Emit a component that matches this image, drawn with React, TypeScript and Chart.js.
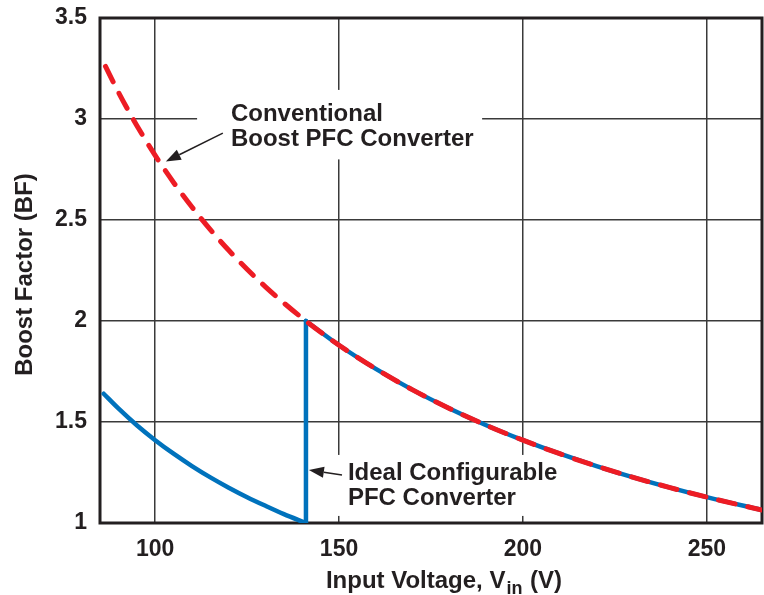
import React, { useEffect, useRef } from "react";
import { Chart, registerables } from "chart.js";

Chart.register(...registerables);

// Input voltage (V) sample points and boost factors
const vinLow = [86, 90, 95, 100, 105, 110, 115, 120, 125, 130, 135, 141];
const bfIdealLow = [1.64, 1.567, 1.484, 1.41, 1.343, 1.282, 1.226, 1.175, 1.128, 1.085, 1.044, 1.0];

const vinJump = [141, 141];
const bfIdealJump = [1.0, 2.0];

const vinHigh = [141, 150, 160, 170, 180, 190, 200, 210, 220, 230, 240, 250, 265];
const bfHigh = [2.0, 1.88, 1.763, 1.659, 1.567, 1.484, 1.41, 1.343, 1.282, 1.226, 1.175, 1.128, 1.064];

const vinConventional = [86.5, 90, 95, 100, 105, 110, 115, 120, 125, 130, 135, ...vinHigh];
const bfConventional = [3.26, 3.133, 2.968, 2.82, 2.686, 2.564, 2.452, 2.35, 2.256, 2.169, 2.089, ...bfHigh];

const xTicks = [100, 150, 200, 250];
const xTickLabels = ["100", "150", "200", "250"];
const yTicks = [1, 1.5, 2, 2.5, 3, 3.5];
const yTickLabels = ["1", "1.5", "2", "2.5", "3", "3.5"];

const xMin = 85;
const xMax = 265;
const yMin = 1;
const yMax = 3.5;

const RED = "#ed1c24";
const BLUE = "#0072bc";
const INK = "#231f20";
const FONT = '"Liberation Sans", Arial, sans-serif';

const pts = (xs: number[], ys: number[]) => xs.map((x, i) => ({ x, y: ys[i] }));

// Annotation boxes / texts / arrows in data units
const conventionalText = { x: 120.6, y: 2.99, lines: ["Conventional", "Boost PFC Converter"] };
const conventionalBox = { x0: 111.4, x1: 188.9, y0: 3.144, y1: 2.8 };
const conventionalArrow = { from: { x: 118.4, y: 2.93 }, to: { x: 102.9, y: 2.79 } };

const idealText = { x: 152.4, y: 1.213, lines: ["Ideal Configurable", "PFC Converter"] };
const idealBox = { x0: 148.9, x1: 210.1, y0: 1.337, y1: 1.035 };
const idealArrow = { from: { x: 150.8, y: 1.238 }, to: { x: 141.8, y: 1.262 } };

const decorPlugin = {
  id: "decor",
  beforeDatasetsDraw(chart: any) {
    const { ctx, chartArea, scales } = chart;
    const xs = scales.x;
    const ys = scales.y;
    ctx.save();
    // white label backdrops over the grid
    ctx.fillStyle = "#ffffff";
    for (const b of [conventionalBox, idealBox]) {
      const l = xs.getPixelForValue(b.x0);
      const r = xs.getPixelForValue(b.x1);
      const t = ys.getPixelForValue(b.y0);
      const bt = ys.getPixelForValue(b.y1);
      ctx.fillRect(l, t, r - l, bt - t);
    }
    // plot frame
    ctx.strokeStyle = "#231f20";
    ctx.lineWidth = 3;
    ctx.strokeRect(chartArea.left, chartArea.top, chartArea.right - chartArea.left, chartArea.bottom - chartArea.top);
    ctx.restore();
  },
  afterDatasetsDraw(chart: any) {
    const { ctx, scales, chartArea } = chart;
    const xs = scales.x;
    const ys = scales.y;
    ctx.save();
    ctx.fillStyle = INK;
    ctx.font = `bold 24px ${FONT}`;
    ctx.textBaseline = "alphabetic";
    ctx.textAlign = "left";
    for (const t of [conventionalText, idealText]) {
      const px = xs.getPixelForValue(t.x);
      const py = ys.getPixelForValue(t.y);
      t.lines.forEach((line, i) => ctx.fillText(line, px, py + i * 25));
    }
    // arrows
    for (const a of [conventionalArrow, idealArrow]) {
      const x0 = xs.getPixelForValue(a.from.x);
      const y0 = ys.getPixelForValue(a.from.y);
      const x1 = xs.getPixelForValue(a.to.x);
      const y1 = ys.getPixelForValue(a.to.y);
      const ang = Math.atan2(y1 - y0, x1 - x0);
      const hl = 15;
      const hw = 5.5;
      const bx = x1 - hl * Math.cos(ang);
      const by = y1 - hl * Math.sin(ang);
      ctx.strokeStyle = INK;
      ctx.lineWidth = 1.5;
      ctx.beginPath();
      ctx.moveTo(x0, y0);
      ctx.lineTo(bx, by);
      ctx.stroke();
      ctx.beginPath();
      ctx.moveTo(x1, y1);
      ctx.lineTo(bx + hw * Math.sin(ang), by - hw * Math.cos(ang));
      ctx.lineTo(bx - hw * Math.sin(ang), by + hw * Math.cos(ang));
      ctx.closePath();
      ctx.fill();
    }

    // axis titles
    ctx.font = `bold 24px ${FONT}`;
    const main = "Input Voltage, V";
    const sub = "in";
    const tail = " (V)";
    const wMain = ctx.measureText(main).width;
    const wTail = ctx.measureText(tail).width;
    ctx.font = `bold 18px ${FONT}`;
    const wSub = ctx.measureText(sub).width;
    const total = wMain + wSub + 2 + wTail;
    const cx = (chartArea.left + chartArea.right) / 2 + 13;
    let x = cx - total / 2;
    const base = 588;
    ctx.font = `bold 24px ${FONT}`;
    ctx.fillText(main, x, base);
    x += wMain + 1;
    ctx.font = `bold 18px ${FONT}`;
    ctx.fillText(sub, x, base + 6);
    x += wSub + 1;
    ctx.font = `bold 24px ${FONT}`;
    ctx.fillText(tail, x, base);

    ctx.save();
    ctx.translate(32, (chartArea.top + chartArea.bottom) / 2 + 4);
    ctx.rotate(-Math.PI / 2);
    ctx.textAlign = "center";
    ctx.fillText("Boost Factor (BF)", 0, 0);
    ctx.restore();
    ctx.restore();
  },
};

export default function App() {
  const ref = useRef<HTMLCanvasElement | null>(null);

  useEffect(() => {
    if (!ref.current) return;
    const chart = new Chart(ref.current, {
      type: "line",
      data: {
        datasets: [
          {
            label: "Conventional Boost PFC Converter",
            data: pts(vinConventional, bfConventional),
            borderColor: RED,
            borderWidth: 5,
            borderDash: [17, 13],
            borderCapStyle: "round",
            cubicInterpolationMode: "monotone",
            pointRadius: 0,
            fill: false,
          },
          {
            label: "Ideal Configurable PFC Converter",
            data: pts(vinLow, bfIdealLow),
            borderColor: BLUE,
            borderWidth: 4.5,
            borderCapStyle: "round",
            cubicInterpolationMode: "monotone",
            pointRadius: 0,
            fill: false,
          },
          {
            label: "Ideal Configurable PFC Converter (step)",
            data: pts(vinJump, bfIdealJump),
            borderColor: BLUE,
            borderWidth: 4.5,
            borderCapStyle: "round",
            tension: 0,
            pointRadius: 0,
            fill: false,
          },
          {
            label: "Ideal Configurable PFC Converter (high line)",
            data: pts(vinHigh, bfHigh),
            borderColor: BLUE,
            borderWidth: 4.5,
            borderCapStyle: "round",
            cubicInterpolationMode: "monotone",
            pointRadius: 0,
            fill: false,
          },
        ],
      },
      options: {
        animation: false,
        responsive: false,
        maintainAspectRatio: false,
        layout: { padding: { top: 18, right: 2, left: 0, bottom: 0 } },
        plugins: {
          legend: { display: false },
          tooltip: { enabled: false },
          title: { display: false },
        },
        scales: {
          x: {
            type: "linear",
            min: xMin,
            max: xMax,
            afterBuildTicks: (axis: any) => {
              axis.ticks = xTicks.map((v) => ({ value: v }));
            },
            afterFit: (axis: any) => {
              axis.height = 72;
              axis.paddingLeft = 0;
              axis.paddingRight = 0;
            },
            ticks: {
              includeBounds: false,
              maxRotation: 0,
              padding: 13,
              color: INK,
              font: { family: FONT, size: 23, weight: "bold" },
              callback: (v: any) => {
                const i = xTicks.indexOf(Number(v));
                return i >= 0 ? xTickLabels[i] : "";
              },
            },
            grid: { color: "#3a3a3a", lineWidth: 1.5, drawTicks: false },
            border: { display: false },
          },
          y: {
            type: "linear",
            min: yMin,
            max: yMax,
            afterBuildTicks: (axis: any) => {
              axis.ticks = yTicks.map((v) => ({ value: v }));
            },
            afterFit: (axis: any) => {
              axis.width = 100;
              axis.paddingTop = 0;
              axis.paddingBottom = 0;
            },
            ticks: {
              padding: 13,
              color: INK,
              font: { family: FONT, size: 23, weight: "bold" },
              callback: (v: any) => {
                const i = yTicks.indexOf(Number(v));
                return i >= 0 ? yTickLabels[i] : "";
              },
            },
            grid: { color: "#3a3a3a", lineWidth: 1.5, drawTicks: false },
            border: { display: false },
          },
        },
      },
      plugins: [decorPlugin],
    });
    return () => chart.destroy();
  }, []);

  return (
    <div style={{ position: "fixed", left: 0, top: 0, width: 764, height: 595, background: "#fff" }}>
      <canvas ref={ref} width={764} height={595} style={{ display: "block", width: 764, height: 595 }} />
    </div>
  );
}
